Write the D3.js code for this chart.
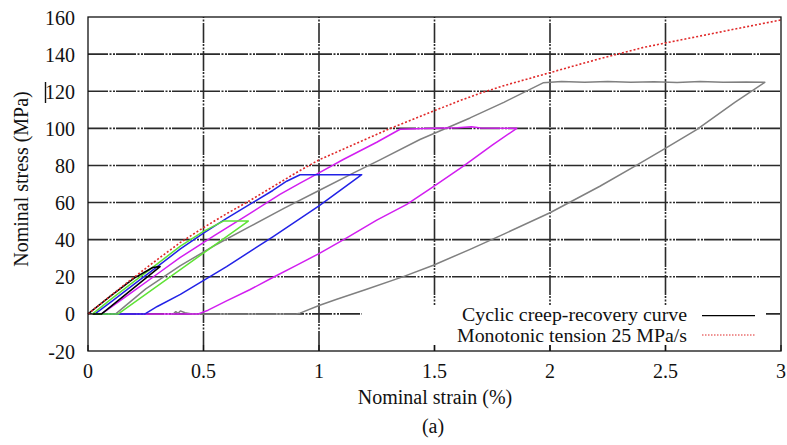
<!DOCTYPE html>
<html><head><meta charset="utf-8">
<script src="https://cdn.jsdelivr.net/npm/d3@7/dist/d3.min.js"></script>
<style>body{margin:0;background:#fff}svg{display:block}</style>
</head><body><svg id="c" width="787" height="445"></svg>
<script>
// ---- data ----
const xTicks = [0, 0.5, 1, 1.5, 2, 2.5, 3];
const xTickLabels = ["0", "0.5", "1", "1.5", "2", "2.5", "3"];
const yTicks = [-20, 0, 20, 40, 60, 80, 100, 120, 140, 160];
const yTickLabels = ["-20", "0", "20", "40", "60", "80", "100", "120", "140", "160"];
const legendLabels = ["Cyclic creep-recovery curve", "Monotonic tension 25 MPa/s"];

const monoStrain = [0, 0.1, 0.2, 0.3, 0.4, 0.5, 0.6, 0.7, 0.8, 0.9, 1.0, 1.1, 1.2, 1.3, 1.4, 1.5, 1.6, 1.7, 1.8, 1.9, 2.0, 2.2, 2.4, 2.6, 2.8, 3.0];
const monoStress = [0, 10, 19.8, 29.3, 38.5, 46.5, 54, 61, 68.5, 76, 83, 88.5, 94, 99.5, 104.5, 109.5, 114.5, 119, 123, 126.5, 130, 137, 143.5, 148.5, 153.5, 158.4];

const cyc25Strain = [0, 0.1, 0.2, 0.28, 0.312, 0.059, 0.02];
const cyc25Stress = [0, 9.8, 19.3, 25, 25.5, 0, 0];

const cyc50Strain = [0.02, 0.1, 0.2, 0.3, 0.4, 0.5, 0.586, 0.694, 0.131, 0.03];
const cyc50Stress = [0, 8, 17.5, 27, 36.5, 44.5, 50, 50, 0, 0];

const cyc75Strain = [0.03, 0.1, 0.2, 0.3, 0.4, 0.5, 0.6, 0.7, 0.8, 0.86, 0.918, 1.185, 1.0, 0.8, 0.6, 0.4, 0.3, 0.247, 0.059];
const cyc75Stress = [0, 6.5, 16, 25.5, 35, 43.5, 51.5, 59, 66.5, 71.5, 75, 75, 58.2, 41.5, 25.5, 10.5, 4, 0, 0];

const cyc100Strain = [0.059, 0.2, 0.3, 0.398, 0.55, 0.7, 0.831, 0.918, 1.0, 1.105, 1.25, 1.351, 1.5, 1.6, 1.66, 1.7, 1.856, 1.75, 1.625, 1.5, 1.38, 1.25, 1.12, 1.0, 0.9, 0.8, 0.7, 0.6, 0.52, 0.478, 0.1];
const cyc100Stress = [0, 12.5, 21.5, 30.3, 42.5, 54, 64.4, 70.5, 76, 83.2, 92.5, 99.5, 100, 100.3, 100.8, 100.2, 100, 91, 79.6, 69, 59, 50.5, 41, 32.5, 26, 19.6, 13, 7, 2, 0, 0];

const cyc125Strain = [0.12, 0.25, 0.4, 0.55, 0.7, 0.85, 1.0, 1.15, 1.264, 1.437, 1.654, 1.8, 1.97, 2.05, 2.15, 2.25, 2.35, 2.45, 2.55, 2.65, 2.75, 2.85, 2.93, 2.8, 2.635, 2.49, 2.368, 2.216, 2.0, 1.8, 1.654, 1.495, 1.365, 1.2, 1.077, 1.0, 0.918, 0.9, 0.6, 0.45, 0.42, 0.40, 0.39, 0.38, 0.37, 0.36];
const cyc125Stress = [0, 13.5, 26, 37, 47, 57, 66.5, 76, 83, 94, 105.6, 114, 124.5, 125.2, 124.8, 125.3, 124.9, 125.1, 124.7, 125.2, 124.9, 125, 124.8, 114, 99.3, 88.5, 79.6, 68.8, 54.5, 43, 34.8, 26.2, 20.1, 13, 7.9, 4.5, 0.4, 0, 0, 0, 0.6, 1.6, 0.3, 1.2, 0, 0];

// ---- chart ----
const FONT = "'Liberation Serif', 'DejaVu Serif', 'Times New Roman', serif";
const FS = 20;
const svg = d3.select("#c");
const L = 88, R = 781, T = 17, B = 351;
const x = d3.scaleLinear().domain([0, 3]).range([L, R]);
const y = d3.scaleLinear().domain([-20, 160]).range([B, T]);
const gridDash = "20,1.5,2,1.5,2,1";

// grid
const g = svg.append("g");
g.selectAll(".hg").data(yTicks.slice(1, -1)).enter().append("line")
  .attr("x1", L).attr("x2", R).attr("y1", d => y(d)).attr("y2", d => y(d))
  .attr("stroke", "#2a2a2a").attr("stroke-width", 1.6).attr("stroke-dasharray", gridDash);
g.selectAll(".vg").data(xTicks.slice(1, -1)).enter().append("line")
  .attr("y1", B).attr("y2", T).attr("x1", d => x(d)).attr("x2", d => x(d))
  .attr("stroke", "#2a2a2a").attr("stroke-width", 1.6).attr("stroke-dasharray", gridDash);

// curves
const line = d3.line().x(d => x(d[0])).y(d => y(d[1]));
function curve(xs, ys, color, extra) {
  const p = svg.append("path").datum(xs.map((v, i) => [v, ys[i]]))
    .attr("d", line).attr("fill", "none").attr("stroke", color)
    .attr("stroke-width", 1.5).attr("stroke-linejoin", "round");
  if (extra) extra(p);
}
curve(cyc125Strain, cyc125Stress, "#808080");
curve(cyc100Strain, cyc100Stress, "#d21ef0");
curve(cyc75Strain, cyc75Stress, "#2222e6");
curve(cyc50Strain, cyc50Stress, "#5fe335");
curve(cyc25Strain, cyc25Stress, "#000000");
curve(monoStrain, monoStress, "#e02828", p => p.attr("stroke-dasharray", "2,2").attr("stroke-width", 1.6));

// legend (opaque key)
svg.append("rect").attr("x", 362).attr("y", 305).attr("width", 404).attr("height", 40).attr("fill", "#fff");
function txt(xp, yp, s, anchor, fs) {
  return svg.append("text").attr("x", xp).attr("y", yp).attr("text-anchor", anchor || "middle")
    .attr("font-family", FONT).attr("font-size", fs || FS).attr("fill", "#111").text(s);
}
txt(462, 321, legendLabels[0], "start", 18.3).attr("textLength", 225).attr("lengthAdjust", "spacingAndGlyphs");
txt(457, 341.5, legendLabels[1], "start", 18.3).attr("textLength", 230).attr("lengthAdjust", "spacingAndGlyphs");
svg.append("line").attr("x1", 702).attr("x2", 755).attr("y1", 315.7).attr("y2", 315.7).attr("stroke", "#000").attr("stroke-width", 1.2);
svg.append("line").attr("x1", 702).attr("x2", 755).attr("y1", 335).attr("y2", 335).attr("stroke", "#e02828").attr("stroke-width", 1.2).attr("stroke-dasharray", "1.5,1.5");

// tick marks
svg.selectAll(".xt").data(xTicks).enter().append("line")
  .attr("x1", d => x(d)).attr("x2", d => x(d)).attr("y1", B).attr("y2", B - 6)
  .attr("stroke", "#111").attr("stroke-width", 1.2);

// border
svg.append("rect").attr("x", L).attr("y", T).attr("width", R - L).attr("height", B - T)
  .attr("fill", "none").attr("stroke", "#111").attr("stroke-width", 1.3);

// tick labels
yTicks.forEach((d, i) => txt(75, y(d) + 7.5, yTickLabels[i], "end"));
xTicks.forEach((d, i) => txt(x(d), 378, xTickLabels[i], "middle"));

// stray mark next to 120
svg.append("line").attr("x1", 45.5).attr("x2", 45.5).attr("y1", 82).attr("y2", 103).attr("stroke", "#111").attr("stroke-width", 1.4);

// titles
txt(435, 404, "Nominal strain (%)");
txt(0, 0, "Nominal stress (MPa)").attr("transform", "translate(28,179) rotate(-90)");
txt(433, 433, "(a)");
</script></body></html>
